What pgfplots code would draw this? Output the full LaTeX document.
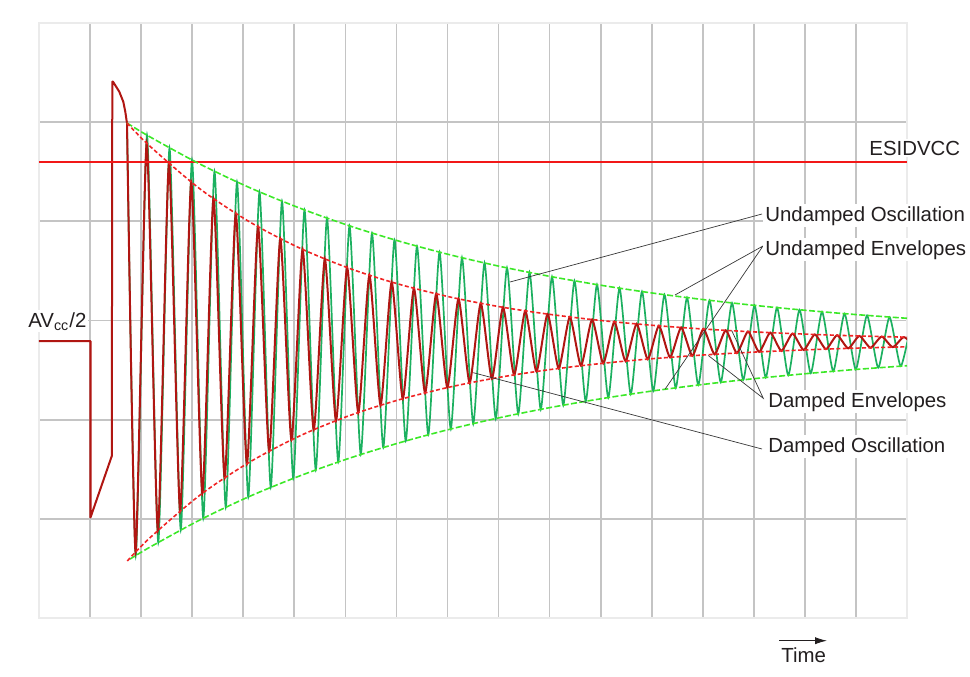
\documentclass[border=0pt]{standalone}
\usepackage{pgfplots}
\pgfplotsset{compat=1.18}
\usepackage{fontspec}
\setmainfont{Liberation Sans}
\usetikzlibrary{arrows.meta}
\definecolor{oscgreen}{RGB}{28,176,96}
\definecolor{envgreen}{RGB}{60,232,40}
\definecolor{oscred}{RGB}{176,22,18}
\definecolor{envred}{RGB}{240,36,36}
\definecolor{linered}{RGB}{242,24,24}
\definecolor{txt}{RGB}{35,31,32}
\definecolor{lead}{RGB}{55,55,55}
\newcommand\lbl{\fontsize{10.2}{12}\selectfont}
\begin{document}
\begin{tikzpicture}
\begin{axis}[
  scale only axis, width=434pt, height=297.5pt,
  xmin=39, xmax=907, ymin=0, ymax=595,
  xtick={90.06,141.12,192.18,243.24,294.29,345.35,396.41,447.47,498.53,549.59,600.65,651.71,702.76,753.82,804.88,855.94},
  ytick={99.17,198.33,297.5,396.67,495.83},
  xticklabels={}, yticklabels={},
  major tick length=0pt,
  grid=major,
  major grid style={draw=black!23, line width=0.85pt},
  axis line style={draw=black!8, line width=0.9pt},
  clip mode=individual,
]
% undamped oscillation
\addplot[oscgreen, line width=0.85pt, smooth, tension=0.36, line cap=round] coordinates {
(127,495)
(135.75,62.40) (147,482.86) (158.25,75.67) (169.5,470.01) (180.75,88.11) (192,457.96) (203.25,99.78) (214.5,446.66) (225.75,110.73) (237,436.06) (248.25,121.00) (259.5,426.11) (270.75,130.63) (282,416.78) (293.25,139.66) (304.5,408.04) (315.75,148.13) (327,399.84) (338.25,156.07) (349.5,392.15) (360.75,163.52) (372,384.93) (383.25,170.51) (394.5,378.16) (405.75,177.06) (417,371.82) (428.25,183.20) (439.5,365.87) (450.75,188.97) (462,360.29) (473.25,194.37) (484.5,355.05) (495.75,199.44) (507,350.14) (518.25,204.20) (529.5,345.54) (540.75,208.66) (552,341.22) (563.25,212.84) (574.5,337.17) (585.75,216.76) (597,333.37) (608.25,220.44) (619.5,329.81) (630.75,223.89) (642,326.46) (653.25,227.13) (664.5,323.33) (675.75,230.16) (687,320.39) (698.25,233.01) (709.5,317.63) (720.75,235.68) (732,315.05) (743.25,238.19) (754.5,312.62) (765.75,240.54) (777,310.34) (788.25,242.74) (799.5,308.21) (810.75,244.81) (822,306.21) (833.25,246.74) (844.5,304.33) (855.75,248.56) (867,302.57) (878.25,250.27) (889.5,300.92) (900.75,251.86) (912,299.37)
};
% initial pulse
\addplot[oscred, line width=1pt, line join=round, line cap=round] coordinates {
(39,277) (90.5,277) (90.5,100.5) (111.8,162) (112.3,536.3) (113,536.3) (119.3,526.3) (123.3,516.3) (125.3,506.3) (126.5,498) (127,495)
};
% damped oscillation
\addplot[oscred, line width=1pt, smooth, tension=0.36, line cap=round] coordinates {
(127,495) (135.57,66.00) (146.70,474.85) (157.84,87.71) (168.97,454.29) (180.11,107.18) (191.24,435.86) (202.38,124.63) (213.51,419.33) (224.65,140.28) (235.78,404.51) (246.92,154.31) (258.05,391.23) (269.19,166.89) (280.32,379.31) (291.46,178.17) (302.59,368.63) (313.73,188.29) (324.86,359.05) (336.00,197.36) (347.13,350.47) (358.27,205.49) (369.40,342.77) (380.54,212.78) (391.67,335.87) (402.81,219.31) (413.94,329.68) (425.08,225.17) (436.21,324.13) (447.35,230.43) (458.48,319.15) (469.62,235.14) (480.75,314.69) (491.89,239.36) (503.02,310.69) (514.16,243.15) (525.29,307.11) (536.43,246.55) (547.56,303.89) (558.70,249.59) (569.83,301.01) (580.97,252.32) (592.10,298.42) (603.24,254.77) (614.37,296.10) (625.51,256.96) (636.64,294.03) (647.78,258.93) (658.91,292.16) (670.05,260.69) (681.18,290.49) (692.32,262.28) (703.45,288.99) (714.59,263.70) (725.72,287.65) (736.86,264.97) (747.99,286.45) (759.13,266.11) (770.26,285.37) (781.40,267.13) (792.53,284.40) (803.67,268.05) (814.80,283.53) (825.94,268.87) (837.07,282.75) (848.21,269.61) (859.34,282.05) (870.48,270.27) (881.61,281.43) (892.75,270.86) (903.88,280.87) (915.02,271.39)
};
% ESIDVCC level
\addplot[linered, line width=0.65pt] coordinates {(39,456) (907,456)};
% undamped envelopes
\addplot[envgreen, line width=0.8pt, dash pattern=on 3pt off 1.2pt, smooth] coordinates {
(127,495) (150,481.1) (200,453.9) (250,430.2) (300,409.8) (350,392.0) (400,376.6) (450,363.2) (500,351.6) (550,341.6) (600,332.9) (650,325.3) (700,318.8) (750,313.1) (800,308.2) (850,303.9) (907,299.7)
};
\addplot[envgreen, line width=0.8pt, dash pattern=on 3pt off 1.2pt, smooth] coordinates {
(130,58.9) (150,70.9) (200,98.1) (250,121.8) (300,142.2) (350,160.0) (400,175.4) (450,188.8) (500,200.4) (550,210.4) (600,219.1) (650,226.7) (700,233.2) (750,238.9) (800,243.8) (850,248.1) (907,252.3)
};
% damped envelopes
\addplot[envred, line width=0.8pt, dash pattern=on 2pt off 1.2pt, smooth] coordinates {
(127,495) (150,471.7) (200,429.1) (250,395.9) (300,369.8) (350,349.4) (400,333.5) (450,321.0) (500,311.2) (550,303.6) (600,297.6) (650,292.9) (700,289.2) (750,286.3) (800,284.1) (850,282.3) (907,280.8)
};
\addplot[envred, line width=0.8pt, dash pattern=on 2pt off 1.2pt, smooth] coordinates {
(127.3,57) (150,80.3) (200,122.9) (250,156.1) (300,182.2) (350,202.6) (400,218.5) (450,231.0) (500,240.8) (550,248.4) (600,254.4) (650,259.1) (700,262.8) (750,265.7) (800,267.9) (850,269.7) (907,271.2)
};
% leader lines
\draw[lead, line width=0.35pt] (axis cs:510,336) -- (axis cs:762,404);
\draw[lead, line width=0.35pt] (axis cs:675,323) -- (axis cs:763,372) -- (axis cs:665,228.7);
\draw[lead, line width=0.35pt] (axis cs:708.3,262.5) -- (axis cs:763.3,219.7) -- (axis cs:731.7,287.5);
\draw[lead, line width=0.35pt] (axis cs:473.3,245.3) -- (axis cs:762,169);
% labels
\begin{scope}[every node/.style={anchor=base west, fill=white, inner sep=1pt, text=txt, font=\lbl}]
\node at (axis cs:867,463) {ESIDVCC};
\node at (axis cs:763,397) {Undamped Oscillation};
\node at (axis cs:763,363) {Undamped Envelopes};
\node at (axis cs:766,211) {Damped Envelopes};
\node at (axis cs:766,166) {Damped Oscillation};
\node at (axis cs:779,-44) {Time};
\node at (axis cs:26,291) {AV\textsubscript{cc}/2};
\end{scope}
\draw[-{Latex[length=6pt,width=3.6pt]}, line width=0.45pt, txt] (axis cs:779,-22.7) -- (axis cs:827,-22.7);
\coordinate (bbBL) at (axis cs:0,-58);
\coordinate (bbTR) at (axis cs:970,618);
\end{axis}
\pgfresetboundingbox
\path[use as bounding box] (bbBL) rectangle (bbTR);
\end{tikzpicture}
\end{document}
